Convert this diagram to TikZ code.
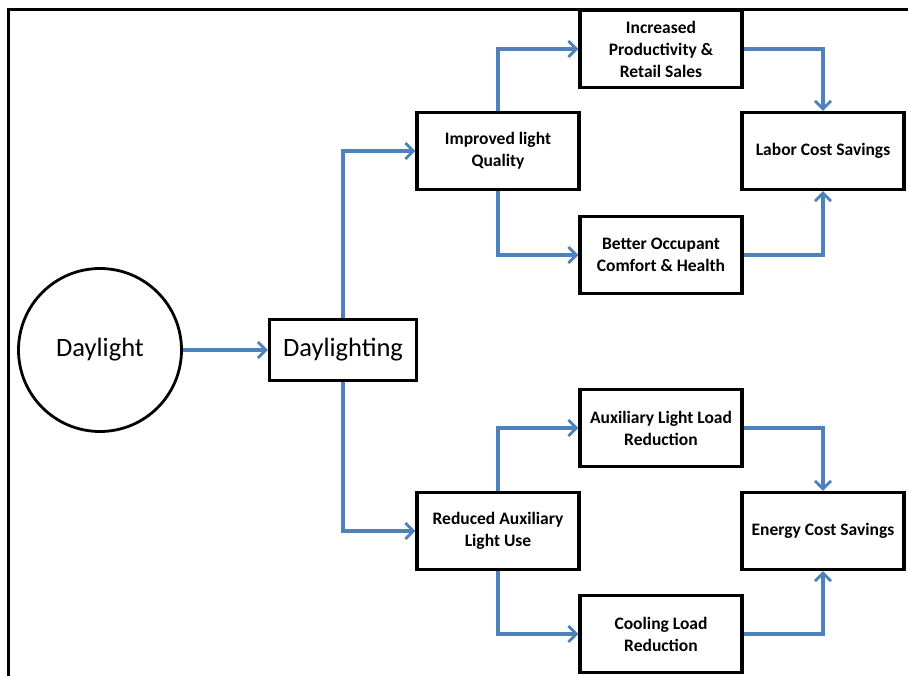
\documentclass[tikz,border=0pt]{standalone}
\usepackage{fontspec}
\setmainfont{Carlito}
\usetikzlibrary{arrows.meta}
\definecolor{linkblue}{HTML}{4F81BD}
\begin{document}
\begin{tikzpicture}[x=1pt,y=-1pt,
  box/.style={draw=black,line width=3.4pt,minimum width=162pt,minimum height=77pt,inner sep=2pt,align=center,font=\fontsize{17.5}{22}\selectfont\bfseries},
  link/.style={draw=linkblue,line width=3.2pt,-{Straight Barb[length=8pt,width=16pt,line width=2.8pt]}},
  plain/.style={draw=linkblue,line width=3.2pt}]
\useasboundingbox (0,0) rectangle (908,676);
\draw[line width=3pt] (8,678) -- (8,10) -- (910,10);
\node[circle,draw=black,line width=2.8pt,minimum size=163pt,font=\fontsize{26.5}{30}\selectfont] (daylight) at (100,350) {Daylight};
\node[draw=black,line width=3.4pt,minimum width=147pt,minimum height=61pt,font=\fontsize{26.5}{30}\selectfont] (dling) at (343,350) {Daylighting};
\node[box] (ilq) at (498,151) {Improved light\\Quality};
\node[box] (ipr) at (661,49) {Increased\\Productivity \&\\Retail Sales};
\node[box] (boc) at (661,255) {Better Occupant\\Comfort \& Health};
\node[box] (lcs) at (823,151) {Labor Cost Savings};
\node[box] (ral) at (498,531) {Reduced Auxiliary\\Light Use};
\node[box] (all) at (661,428) {Auxiliary Light Load\\Reduction};
\node[box] (clr) at (661,634) {Cooling Load\\Reduction};
\node[box] (ecs) at (823,531) {Energy Cost Savings};
\draw[link] (daylight.east) -- (dling.west);
\draw[link] (dling.north) |- (ilq.west);
\draw[link] (dling.south) |- (ral.west);
\draw[link] (ilq.north) |- (ipr.west);
\draw[link] (ilq.south) |- (boc.west);
\draw[link] (ipr.east) -| (lcs.north);
\draw[link] (boc.east) -| (lcs.south);
\draw[link] (ral.north) |- (all.west);
\draw[link] (ral.south) |- (clr.west);
\draw[link] (all.east) -| (ecs.north);
\draw[link] (clr.east) -| (ecs.south);
\end{tikzpicture}
\end{document}
